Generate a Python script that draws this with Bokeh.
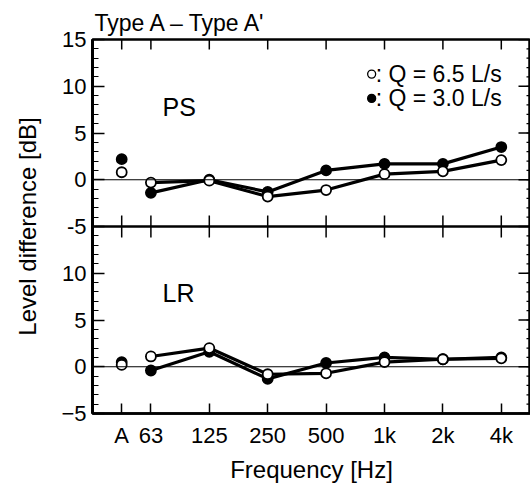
import math
from bokeh.plotting import figure
from bokeh.models import Range1d, FixedTicker, Span, Label
from bokeh.embed import file_html
from bokeh.resources import INLINE

# ---- data ----
freq_labels = ["A", "63", "125", "250", "500", "1k", "2k", "4k"]
ps_q65 = [0.8, -0.3, -0.1, -1.8, -1.1, 0.6, 0.9, 2.1]
ps_q30 = [2.2, -1.4, 0.0, -1.3, 1.0, 1.7, 1.7, 3.5]
lr_q65 = [0.2, 1.1, 2.0, -0.8, -0.7, 0.5, 0.8, 0.9]
lr_q30 = [0.5, -0.4, 1.6, -1.3, 0.4, 1.0, 0.8, 1.0]
series_labels = ["Q = 6.5 L/s", "Q = 3.0 L/s"]
panel_names = ["PS", "LR"]
header = "Type A \u2013 Type A'"

# octave positions: A half an octave below 63 Hz
xpos = [-0.5] + list(range(len(freq_labels) - 1))
X0, X1 = -1, 6.5
Y0, Y1 = -5, 35          # whole stack in bottom-panel units
YMID = 15                # divider between panels

FONT = "Liberation Sans"
W, H = 530, 488

p = figure(width=W, height=H, output_backend="svg", toolbar_location=None,
           x_range=Range1d(X0, X1), y_range=Range1d(Y0, Y1),
           min_border_left=92, min_border_right=0, min_border_top=39,
           min_border_bottom=75)
p.extra_y_ranges = {"top": Range1d(-25, 15)}
p.xgrid.visible = False
p.ygrid.visible = False
p.outline_line_color = "black"
p.outline_line_width = 2.5
p.background_fill_color = "white"
p.border_fill_color = "white"

p.title.text = header
p.title.text_font = FONT
p.title.text_font_size = "23px"
p.title.text_font_style = "normal"
p.title.text_color = "black"
p.title.align = "left"
p.title.offset = 2
p.title.standoff = 8

# ---- axes ----
major_y = list(range(Y0, Y1 + 1, 5))
minor_y = list(range(Y0, Y1 + 1))
yt = FixedTicker(ticks=major_y, minor_ticks=minor_y)
xt = FixedTicker(ticks=xpos, minor_ticks=[])
overrides_y = {15: "-5", 20: "0", 25: "5", 30: "10", 35: "15"}

ya = p.yaxis[0]
ya.ticker = yt
ya.major_label_overrides = overrides_y
ya.axis_label = "Level difference [dB]"
ya.axis_label_text_font = FONT
ya.axis_label_text_font_size = "24px"
ya.axis_label_text_font_style = "normal"
ya.axis_label_text_color = "black"
ya.axis_label_standoff = 17
ya.major_label_text_font = FONT
ya.major_label_text_font_size = "22px"
ya.major_label_text_color = "black"
ya.major_label_standoff = 6
ya.major_tick_in = 12
ya.major_tick_out = 0
ya.minor_tick_in = 6
ya.minor_tick_out = 0
ya.axis_line_width = 3
ya.major_tick_line_width = 1.5
ya.minor_tick_line_width = 1.2

xa = p.xaxis[0]
xa.ticker = xt
xa.major_label_overrides = {x: l for x, l in zip(xpos, freq_labels)}
xa.axis_label = "Frequency [Hz]"
xa.axis_label_text_font = FONT
xa.axis_label_text_font_size = "24px"
xa.axis_label_text_font_style = "normal"
xa.axis_label_text_color = "black"
xa.axis_label_standoff = 5
xa.major_label_text_font = FONT
xa.major_label_text_font_size = "22px"
xa.major_label_text_color = "black"
xa.major_label_standoff = 9
xa.major_tick_in = 10
xa.major_tick_out = 0
xa.minor_tick_line_color = None
xa.axis_line_width = 2.5
xa.major_tick_line_width = 1.5

# right-hand inward ticks (dash markers centred on the frame edge, clipped)
p.scatter(x=[X1] * len(major_y), y=major_y, marker="dash", size=24,
          line_color="black", line_width=1.5)
p.scatter(x=[X1] * len(minor_y), y=minor_y, marker="dash", size=8,
          line_color="black", line_width=1.2)
# top inward ticks
p.scatter(x=xpos, y=[Y1] * len(xpos), marker="dash", angle=math.pi / 2, size=20,
          line_color="black", line_width=1.5)

# panel divider and zero lines
p.add_layout(Span(location=YMID, dimension="width", line_color="black", line_width=2.5))
p.add_layout(Span(location=0, dimension="width", line_color="black", line_width=1))
p.add_layout(Span(location=0, dimension="width", line_color="black", line_width=1,
                  y_range_name="top"))
# tick crosses on the divider
p.scatter(x=xpos, y=[YMID] * len(xpos), marker="dash", angle=math.pi / 2, size=22,
          line_color="black", line_width=1.5)

# ---- series ----
def draw(q65, q30, rng):
    kw = {} if rng is None else {"y_range_name": rng}
    p.line(xpos[1:], q30[1:], line_color="black", line_width=3.2, **kw)
    p.line(xpos[1:], q65[1:], line_color="black", line_width=3.2, **kw)
    p.scatter(xpos, q30, marker="circle", size=10, fill_color="black",
              line_color="black", line_width=1.8, **kw)
    p.scatter(xpos, q65, marker="circle", size=10, fill_color="white",
              line_color="black", line_width=1.8, **kw)

draw(ps_q65, ps_q30, "top")
draw(lr_q65, lr_q30, None)

# panel labels
p.add_layout(Label(x=0.2, y=7.8, y_range_name="top", text=panel_names[0],
                   text_font=FONT, text_font_size="25px", text_color="black",
                   text_baseline="middle"))
p.add_layout(Label(x=0.2, y=7.9, text=panel_names[1],
                   text_font=FONT, text_font_size="25px", text_color="black",
                   text_baseline="middle"))

# legend
p.scatter([3.78], [11.3], y_range_name="top", marker="circle", size=8,
          fill_color="white", line_color="black", line_width=1.3)
p.scatter([3.78], [8.7], y_range_name="top", marker="circle", size=8,
          fill_color="black", line_color="black", line_width=1.3)
for yv, txt in zip([11.3, 8.7], series_labels):
    p.add_layout(Label(x=3.85, y=yv, y_range_name="top", text=": " + txt,
                       text_font=FONT, text_font_size="23px", text_color="black",
                       text_baseline="middle"))

open("out.html", "w").write(file_html(p, INLINE))
